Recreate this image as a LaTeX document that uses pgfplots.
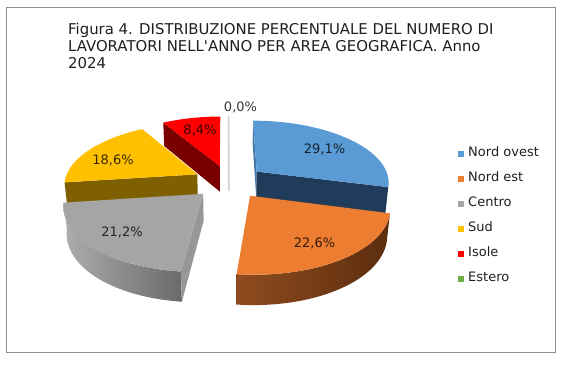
\documentclass[border=0pt]{standalone}
\usepackage{pgfplots}
\pgfplotsset{compat=1.18}
\usepackage{fontspec}
\setmainfont{DejaVu Sans}

\definecolor{cNO}{HTML}{5B9BD5}
\definecolor{cNOside}{HTML}{213C5A}
\definecolor{cNOleft}{HTML}{4677AA}
\definecolor{cNE}{HTML}{ED7D31}
\definecolor{cNErimL}{HTML}{8E4C1E}
\definecolor{cNErimR}{HTML}{5C2D0E}
\definecolor{cCE}{HTML}{A5A5A5}
\definecolor{cCErimL}{HTML}{ADADAD}
\definecolor{cCErimR}{HTML}{6A6A6A}
\definecolor{cCEside}{HTML}{979797}
\definecolor{cSU}{HTML}{FFC000}
\definecolor{cSUside}{HTML}{7F6000}
\definecolor{cIS}{HTML}{FF0000}
\definecolor{cISside}{HTML}{7A0000}
\definecolor{cES}{HTML}{70AD47}
\definecolor{cESline}{HTML}{D0D0D0}
\definecolor{cFrame}{HTML}{8F8F8F}
\definecolor{cText}{HTML}{1F1F1F}

\tikzset{
  lab/.style={anchor=base, inner sep=0pt, font=\fontsize{13}{15}\selectfont, text=black, text opacity=0.78},
  ttl/.style={anchor=base west, inner sep=0pt, font=\fontsize{14.9}{17}\selectfont, text=cText},
}

% data (percent)
\def\vNO{29.1}
\def\vNE{22.6}
\def\vCE{21.2}
\def\vSU{18.6}
\def\vIS{8.4}
\def\vES{0.0}

% projection of the tilted pie (u right, v far, z up)
\def\E{0.27}
\def\H{0.228}
\pgfmathdeclarefunction{PX}{3}{\pgfmathparse{229+133*(#1)*5.67/(5.67+(#2)*0.886-(#3)*0.464)}}
\pgfmathdeclarefunction{PY}{3}{\pgfmathparse{181.5-133*((#2)*0.464+(#3)*0.886)*5.67/(5.67+(#2)*0.886-(#3)*0.464)}}

\newcommand\TopFace[4]{% mid, alpha, beta, options
\addplot[geo,#4,variable=\t,domain=0:1.02,samples=52]
 ({PX(\E*sin(#1)+(\t<1.001)*sin(#2+(#3-#2)*min(\t,1)), \E*cos(#1)+(\t<1.001)*cos(#2+(#3-#2)*min(\t,1)), 0)},
  {PY(\E*sin(#1)+(\t<1.001)*sin(#2+(#3-#2)*min(\t,1)), \E*cos(#1)+(\t<1.001)*cos(#2+(#3-#2)*min(\t,1)), 0)});
}
\newcommand\RimFace[4]{% mid, t1, t2, options
\addplot[geo,#4,variable=\t,domain=0:2,samples=101]
 ({PX(\E*sin(#1)+sin(#2+(#3-#2)*(min(\t,1)-max(0,\t-1.02)/0.98)), \E*cos(#1)+cos(#2+(#3-#2)*(min(\t,1)-max(0,\t-1.02)/0.98)), -\H*(\t>1.001))},
  {PY(\E*sin(#1)+sin(#2+(#3-#2)*(min(\t,1)-max(0,\t-1.02)/0.98)), \E*cos(#1)+cos(#2+(#3-#2)*(min(\t,1)-max(0,\t-1.02)/0.98)), -\H*(\t>1.001))});
}
\newcommand\CutFace[3]{% mid, angle, options
\addplot[geo,#3,variable=\t,domain=0:3,samples=4]
 ({PX(\E*sin(#1)+(\t>0.5)*(\t<2.5)*sin(#2), \E*cos(#1)+(\t>0.5)*(\t<2.5)*cos(#2), -\H*(\t>1.5))},
  {PY(\E*sin(#1)+(\t>0.5)*(\t<2.5)*sin(#2), \E*cos(#1)+(\t>0.5)*(\t<2.5)*cos(#2), -\H*(\t>1.5))});
}

\begin{document}
\begin{tikzpicture}
\pgfmathsetmacro\aA{0}
\pgfmathsetmacro\aB{\aA+3.6*\vNO}
\pgfmathsetmacro\aC{\aB+3.6*\vNE}
\pgfmathsetmacro\aD{\aC+3.6*\vCE}
\pgfmathsetmacro\aE{\aD+3.6*\vSU}
\pgfmathsetmacro\aF{\aE+3.6*\vIS}
\pgfmathsetmacro\aG{\aF+3.6*\vES}
\pgfmathsetmacro\mA{(\aA+\aB)/2}
\pgfmathsetmacro\mB{(\aB+\aC)/2}
\pgfmathsetmacro\mC{(\aC+\aD)/2}
\pgfmathsetmacro\mD{(\aD+\aE)/2}
\pgfmathsetmacro\mE{(\aE+\aF)/2}
\pgfmathsetmacro\mF{(\aF+360)/2}
\begin{axis}[
  anchor=origin, at={(0pt,0pt)},
  scale only axis, width=571pt, height=366pt,
  xmin=0, xmax=571, ymin=0, ymax=366, y dir=reverse,
  hide axis, clip=false,
  geo/.style={forget plot, draw=none},
  legend image code/.code={\fill[#1, draw=none] (0pt,-3pt) rectangle (6pt,3pt);},
  legend cell align=left,
  legend style={at={(axis cs:458,147)}, anchor=north west, draw=none, fill=none,
    inner sep=0pt, row sep=12pt, column sep=4pt,
    font=\fontsize{13}{15}\selectfont, text=cText,
    nodes={inner sep=0pt, text height=9.5pt, text depth=3.5pt}},
]
% frame
\draw[cFrame, line width=1pt] (axis cs:6.5,7.5) rectangle (axis cs:555,352.5);
% title
\node[ttl] at (axis cs:68,34) {Figura 4. DISTRIBUZIONE PERCENTUALE DEL NUMERO DI};
\node[ttl] at (axis cs:68,51) {LAVORATORI NELL\textquotesingle ANNO PER AREA GEOGRAFICA. Anno};
\node[ttl] at (axis cs:68,68) {2024};

% Isole (back)
\CutFace{\mE}{\aE}{fill=cISside}
\TopFace{\mE}{\aE}{\aF}{fill=cIS}
% Estero (zero slice)
\addplot[geo, draw=cESline, line width=1.5pt, variable=\t, domain=0:2, samples=3]
 ({PX(\E*sin(\mF)+(\t<0.5)*sin(\mF), \E*cos(\mF)+(\t<0.5)*cos(\mF), -\H*(\t>1.5))},
  {PY(\E*sin(\mF)+(\t<0.5)*sin(\mF), \E*cos(\mF)+(\t<0.5)*cos(\mF), -\H*(\t>1.5))});
% Sud
\CutFace{\mD}{\aD}{fill=cSUside}
\TopFace{\mD}{\aD}{\aE}{fill=cSU}
% Nord ovest
\CutFace{\mA}{\aA}{fill=cNOleft}
\CutFace{\mA}{\aB}{fill=cNOside}
\TopFace{\mA}{\aA}{\aB}{fill=cNO}
% Centro
\RimFace{\mC}{\aC}{\aD}{left color=cCErimL, right color=cCErimR}
\CutFace{\mC}{\aC}{fill=cCEside}
\TopFace{\mC}{\aC}{\aD}{fill=cCE}
% Nord est
\RimFace{\mB}{\aB}{\aC}{left color=cNErimL, right color=cNErimR}
\TopFace{\mB}{\aB}{\aC}{fill=cNE}

% data labels
\node[lab] at (axis cs:324.5,153.7) {29,1\%};
\node[lab] at (axis cs:314.5,247.7) {22,6\%};
\node[lab] at (axis cs:122,236.7) {21,2\%};
\node[lab] at (axis cs:113,164.7) {18,6\%};
\node[lab] at (axis cs:200,134.7) {8,4\%};
\node[lab] at (axis cs:240.5,111.4) {0,0\%};

% legend
\addlegendimage{fill=cNO}\addlegendentry{Nord ovest}
\addlegendimage{fill=cNE}\addlegendentry{Nord est}
\addlegendimage{fill=cCE}\addlegendentry{Centro}
\addlegendimage{fill=cSU}\addlegendentry{Sud}
\addlegendimage{fill=cIS}\addlegendentry{Isole}
\addlegendimage{fill=cES}\addlegendentry{Estero}
\end{axis}
\pgfresetboundingbox
\useasboundingbox (0pt,0pt) rectangle (571pt,-366pt);
\end{tikzpicture}
\end{document}
